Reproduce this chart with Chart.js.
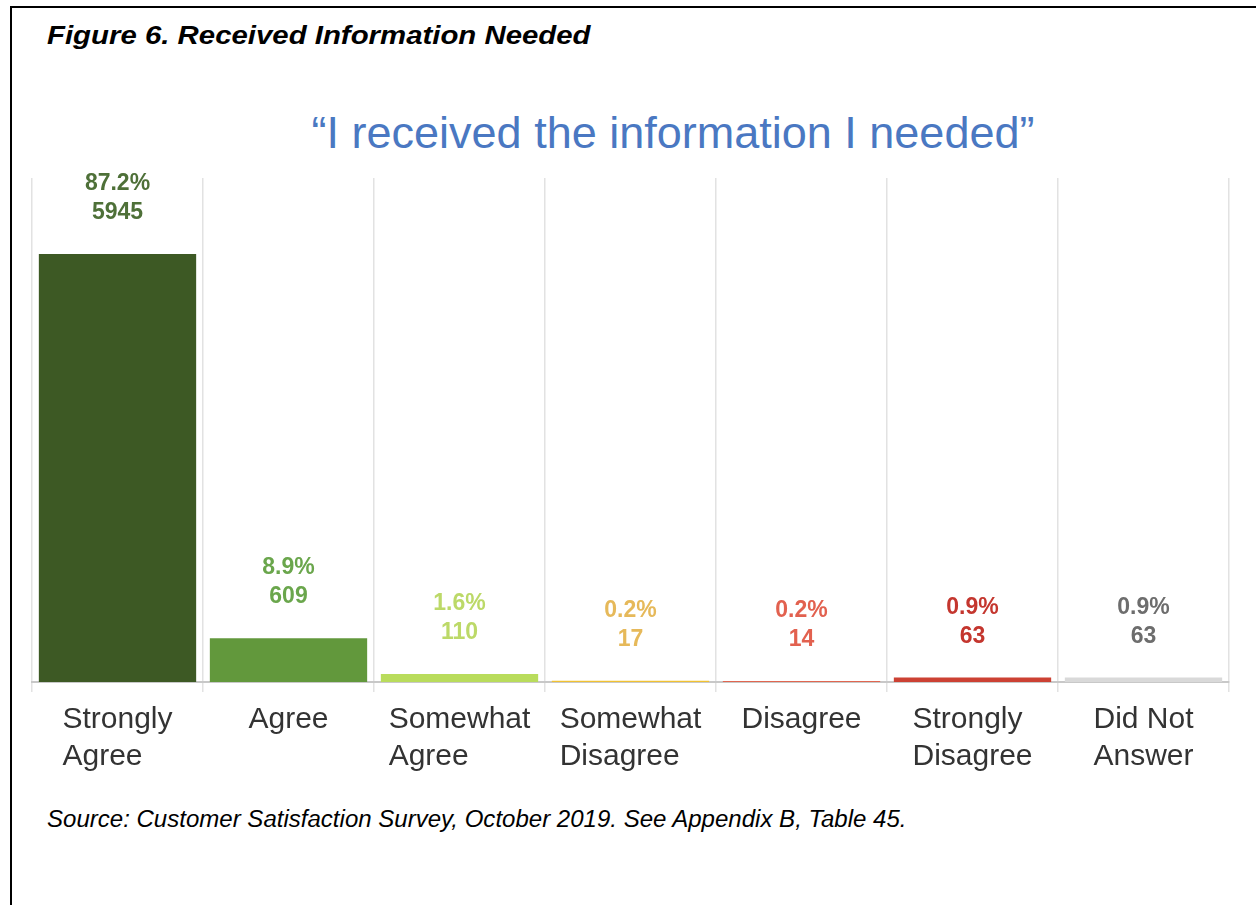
<!DOCTYPE html>
<html>
<head>
<meta charset="utf-8">
<script src="https://cdn.jsdelivr.net/npm/chart.js@4"></script>
<style>
  body { margin: 0; background: #fff; width: 1256px; height: 905px; overflow: hidden; position: relative; font-family: "Liberation Sans", Arial, sans-serif; }
  .frame { position: absolute; left: 10px; top: 6px; width: 1300px; height: 950px; border: 2px solid #000; }
  .caption { position: absolute; left: 47px; top: 20px; font-size: 25px; line-height: 30px; font-weight: bold; font-style: italic; color: #000; white-space: nowrap; transform: scaleX(1.175); transform-origin: left center; }
  .question { position: absolute; left: 0; width: 1346px; top: 108px; text-align: center; font-size: 45px; line-height: 50px; color: #4a78c2; white-space: nowrap; }
  .source { position: absolute; left: 47px; top: 806px; font-size: 23px; line-height: 26px; font-style: italic; color: #000; white-space: nowrap; transform: scaleX(1.045); transform-origin: left center; }
  .chart-box { position: absolute; left: 0; top: 0; width: 1256px; height: 905px; }
</style>
</head>
<body>
<div class="frame"></div>
<div class="caption">Figure 6. Received Information Needed</div>
<div class="question">“I received the information I needed”</div>
<div class="source">Source: Customer Satisfaction Survey, October 2019. See Appendix B, Table 45.</div>
<div class="chart-box"><canvas id="chart"></canvas></div>

<script>
const categories = [
  ['Strongly', 'Agree'],
  ['Agree'],
  ['Somewhat', 'Agree'],
  ['Somewhat', 'Disagree'],
  ['Disagree'],
  ['Strongly', 'Disagree'],
  ['Did Not', 'Answer']
];
const counts = [5945, 609, 110, 17, 14, 63, 63];
const percents = [87.2, 8.9, 1.6, 0.2, 0.2, 0.9, 0.9];

const barColors = ['#3d5924', '#62983c', '#b9dc5c', '#f1c232', '#e06650', '#cc4133', '#d9d9d9'];
const labelColors = ['#4e7038', '#6aa64c', '#bcd968', '#e6b95a', '#e2614f', '#c4362e', '#6d6d6d'];

const FONT = '"Liberation Sans", Arial, sans-serif';

// percent + count stacked above each bar
const valueLabels = {
  id: 'valueLabels',
  afterDatasetsDraw(chart) {
    const { ctx } = chart;
    const bars = chart.getDatasetMeta(0).data;
    ctx.save();
    ctx.font = 'bold 23px ' + FONT;
    ctx.textAlign = 'center';
    ctx.textBaseline = 'middle';
    bars.forEach((bar, i) => {
      ctx.fillStyle = labelColors[i];
      ctx.fillText(percents[i].toFixed(1) + '%', bar.x, bar.y - 70);
      ctx.fillText(String(counts[i]), bar.x, bar.y - 41);
    });
    ctx.restore();
  }
};

// category names under the axis, lines left-aligned inside a centred block
const categoryLabels = {
  id: 'categoryLabels',
  afterDraw(chart) {
    const { ctx } = chart;
    const xScale = chart.scales.x;
    const top = chart.chartArea.bottom + 38;
    ctx.save();
    ctx.font = '30px ' + FONT;
    ctx.fillStyle = '#333';
    ctx.textAlign = 'left';
    ctx.textBaseline = 'middle';
    categories.forEach((lines, i) => {
      const cx = xScale.getPixelForValue(i);
      const w = Math.max(...lines.map(l => ctx.measureText(l).width));
      lines.forEach((line, j) => {
        ctx.fillText(line, cx - w / 2, top + j * 37);
      });
    });
    ctx.restore();
  }
};

new Chart(document.getElementById('chart'), {
  type: 'bar',
  data: {
    labels: categories,
    datasets: [{
      data: counts,
      backgroundColor: barColors,
      borderWidth: 0,
      barPercentage: 0.92,
      categoryPercentage: 1.0
    }]
  },
  options: {
    responsive: true,
    maintainAspectRatio: false,
    animation: false,
    layout: { padding: { left: 32, right: 27, top: 178, bottom: 213 } },
    plugins: {
      legend: { display: false },
      tooltip: { enabled: false }
    },
    scales: {
      x: {
        offset: true,
        grid: { offset: true, color: '#e2e2e2', lineWidth: 1.5, tickLength: 10, drawOnChartArea: true },
        border: { color: '#c8c8c8', width: 2 },
        ticks: { display: false }
      },
      y: {
        display: false,
        min: 0,
        max: 7000
      }
    }
  },
  plugins: [valueLabels, categoryLabels]
});
</script>
</body>
</html>
